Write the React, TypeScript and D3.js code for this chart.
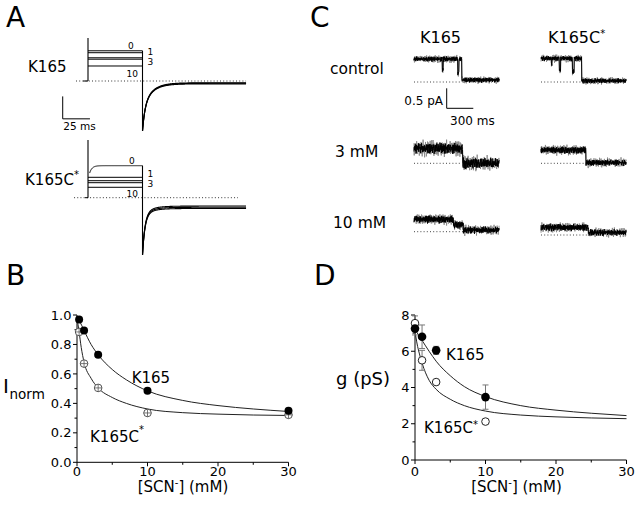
import React from 'react';
import * as d3 from 'd3';

const FONT = "'DejaVu Sans', Verdana, sans-serif";

// ---------------- Panel A (macroscopic currents) ----------------
const aTraceLabels = ['0', '1', '3', '10'];
const aLevelsK165 = [1.373, 1.286, 1.055, 0.991, 0.682]; // normalized current units
const aLevelsK165C = [1.455, 0.927, 0.773, 0.682, 0.473];
const aTailSSK165 = [-0.08, -0.105, -0.13];
const aTailSSK165C = [-0.38, -0.436, -0.49];
const aTailPeakK165 = -2.27;
const aTailPeakK165C = -2.6;
const aSpikeK165 = 1.95;
const aSpikeK165C = 2.62;
const aStepEnd = 50; // ms
const aTraceEnd = 145; // ms
const aTailWK165 = [0.5, 0.5];
const aTailWK165C = [0.85, 0.15];
const aTailTau = [2.3, 8.3]; // ms

// ---------------- Panel B ----------------
const concB = [0.3, 1, 3, 10, 30];
const inormK165 = [0.97, 0.895, 0.73, 0.485, 0.35];
const inormK165C = [0.885, 0.67, 0.505, 0.335, 0.322];
const fitXB_K165 = [0, 0.3, 1, 2, 3, 5, 7, 10, 15, 20, 25, 30];
const fitYB_K165 = [0.99, 0.965, 0.895, 0.8, 0.73, 0.63, 0.56, 0.485, 0.42, 0.385, 0.362, 0.345];
const fitXB_K165C = [0, 0.3, 0.6, 1, 2, 3, 5, 7, 10, 15, 20, 25, 30];
const fitYB_K165C = [0.98, 0.885, 0.78, 0.68, 0.57, 0.505, 0.44, 0.4, 0.362, 0.337, 0.327, 0.321, 0.318];
const xTicksB = [0, 10, 20, 30];
const yTicksB = [0, 0.2, 0.4, 0.6, 0.8, 1.0];

// ---------------- Panel C (single channels) ----------------
const cCols = ['K165', 'K165C'];
const cRows = ['control', '3 mM', '10 mM'];
const cOpen = [[0.575, 0.59], [0.375, 0.33], [0.31, 0.19]]; // pA above closed baseline
const cClosed = [[0.05, 0.03], [0.0, 0.015], [0.04, 0.06]];
const cCloseT = [[538, 459], [549, 507], [556, 533]]; // ms
const cNoiseAmp = [[0.075, 0.075], [0.16, 0.1], [0.11, 0.1]];
const cDips = [
  { r: 0, c: 0, t: 323, depth: 0.28, dur: 10 },
  { r: 0, c: 0, t: 500, depth: 0.36, dur: 14 },
  { r: 0, c: 1, t: 120, depth: 0.15, dur: 10 },
  { r: 0, c: 1, t: 214, depth: 0.3, dur: 16 },
  { r: 0, c: 1, t: 364, depth: 0.34, dur: 20 },
];
const cSublevels = [{ r: 2, c: 0, t0: 443, t1: 556, level: 0.17 }];
const cDuration = 960; // ms
const NOISE_A = [0.3, -0.8, 0.5, 0.1, -0.4, 0.9, -0.2, -0.7, 0.6, 0.2,
  -0.5, 0.8, -0.9, 0.4, 0.0, -0.3, 0.7, -0.6, 0.2, 0.5,
  -1.0, 0.3, 0.6, -0.4, -0.1, 0.9, -0.7, 0.1, 0.4, -0.5,
  0.8, -0.2, -0.8, 0.6, 0.3, -0.6, 0.0, 0.7, -0.3, 0.5,
  -0.9, 0.2, 0.4, -0.1, 0.8, -0.6, -0.3, 0.6, 0.1, -0.8,
  0.9, -0.4, 0.2, 0.5, -0.7, 0.3, -0.2, 0.7, -0.5, 0.1, -0.9];
const NOISE_B = [-0.4, 0.7, 0.1, -0.9, 0.5, -0.2, 0.8, -0.6, 0.3, 0.0,
  -0.7, 0.9, -0.1, 0.4, -0.5, 0.6, -0.8, 0.2, 0.7, -0.3,
  0.1, -0.6, 0.9, -0.4, 0.3, -1.0, 0.5, 0.2, -0.2, 0.8,
  -0.7, 0.4, -0.1, 0.6, -0.5, 0.0, 0.9, -0.8, 0.3, -0.3,
  0.7, -0.6, 0.2, 0.5, -0.9, 0.1, 0.6, -0.4, 0.8, -0.2,
  -0.5, 0.4, 0.0];

// ---------------- Panel D ----------------
const concD = [0, 1, 3, 10];
const gK165 = [7.25, 6.8, 6.05, 3.47];
const errK165 = [0.35, 0.65, 0.22, 0.67];
const gK165C = [7.55, 5.5, 4.3, 2.12];
const errK165C = [0.4, 0.55, 0.0, 0.0];
const fitXD_K165 = [0, 0.5, 1, 2, 3, 5, 7, 10, 15, 20, 25, 30];
const fitYD_K165 = [7.2, 6.9, 6.6, 6.0, 5.45, 4.65, 4.05, 3.5, 3.0, 2.75, 2.58, 2.45];
const fitXD_K165C = [0, 0.3, 0.6, 1, 2, 3, 5, 7, 10, 15, 20, 25, 30];
const fitYD_K165C = [7.1, 6.4, 5.9, 5.35, 4.4, 3.9, 3.35, 3.0, 2.7, 2.48, 2.38, 2.32, 2.28];
const xTicksD = [0, 10, 20, 30];
const yTicksD = [0, 2, 4, 6, 8];

type Pt = [number, number];

function noise(i: number, s: number) {
  return 0.6 * NOISE_A[(i + 5 * s) % NOISE_A.length] + 0.4 * NOISE_B[(i * 2 + 7 * s) % NOISE_B.length];
}

function Axes(props: {
  x: d3.ScaleLinear<number, number>; y: d3.ScaleLinear<number, number>;
  xTicks: number[]; yTicks: number[]; xMinor: number[]; yMinor: number[];
  yFmt: (v: number) => string;
}) {
  const { x, y, xTicks, yTicks, xMinor, yMinor, yFmt } = props;
  const x0 = x.range()[0], x1 = x.range()[1];
  const y0 = y.range()[0], y1 = y.range()[1];
  return (
    <g>
      <line x1={x0} y1={y0} x2={x1} y2={y0} stroke="#000" strokeWidth={1} />
      <line x1={x0} y1={y0} x2={x0} y2={y1} stroke="#000" strokeWidth={1} />
      {xTicks.map((t) => (
        <g key={'xt' + t}>
          <line x1={x(t)} x2={x(t)} y1={y0} y2={y0 + 4} stroke="#000" />
          <text x={x(t)} y={476} fontSize={13} textAnchor="middle">{t}</text>
        </g>
      ))}
      {xMinor.map((t) => (
        <line key={'xm' + t} x1={x(t)} x2={x(t)} y1={y0} y2={y0 + 2.5} stroke="#000" />
      ))}
      {yTicks.map((t) => (
        <g key={'yt' + t}>
          <line x1={x0 - 4} x2={x0} y1={y(t)} y2={y(t)} stroke="#000" />
          <text x={x0 - 5.5} y={y(t) + 4.6} fontSize={13} textAnchor="end">{yFmt(t)}</text>
        </g>
      ))}
      {yMinor.map((t) => (
        <line key={'ym' + t} x1={x0 - 2.5} x2={x0} y1={y(t)} y2={y(t)} stroke="#000" />
      ))}
    </g>
  );
}

function SCNLabel({ cx }: { cx: number }) {
  return (
    <text x={cx} y={492} fontSize={15} textAnchor="middle">
      [SCN<tspan dy={-6} fontSize={10}>-</tspan><tspan dy={6}>] (mM)</tspan>
    </text>
  );
}

export default function App() {
  // ---------- Panel A ----------
  const xA = d3.scaleLinear().domain([0, 100]).range([88, 197]);
  const yAk = d3.scaleLinear().domain([0, 1]).range([81, 59]);
  const yAc = d3.scaleLinear().domain([0, 1]).range([197.7, 175.7]);

  const tailPts = (ss: number, peak: number, w: number[]): Pt[] => {
    const pts: Pt[] = [];
    for (let t = aStepEnd; t <= aTraceEnd; t += 0.25) {
      const dt = t - aStepEnd;
      const f = w[0] * Math.exp(-dt / aTailTau[0]) + w[1] * Math.exp(-dt / aTailTau[1]);
      pts.push([t, ss + (peak - ss) * f]);
    }
    return pts;
  };

  const panelA = (y: d3.ScaleLinear<number, number>, levels: number[], spike: number,
    peak: number, tailSS: number[], w: number[], footStart: number, dotStart: number, dotEnd: number,
    riseFirst: boolean) => {
    const ln = d3.line<Pt>().x((d) => xA(d[0])).y((d) => y(d[1]));
    const traces = levels.map((L, i) => {
      if (riseFirst && i === 0) {
        const pts: Pt[] = [];
        for (let t = 1.5; t <= aStepEnd; t += 0.25) {
          pts.push([t, L - (L - 1.12) * Math.exp(-(t - 1.5) / 2.2)]);
        }
        return pts;
      }
      return [[0, L], [aStepEnd, L]] as Pt[];
    });
    return (
      <g fill="none" stroke="#000">
        <path d={ln([[dotStart, 0], [dotEnd, 0]])!} strokeDasharray="1 2.2" strokeWidth={1} stroke="#333" />
        <path d={ln([[footStart, 0], [0, 0]])!} strokeWidth={1} />
        <path d={ln([[0, 0], [0, spike]])!} strokeWidth={1.1} />
        {traces.map((p, i) => <path key={i} d={ln(p)!} strokeWidth={1} />)}
        <path d={ln([[aStepEnd, d3.max(levels)!], [aStepEnd, peak]])!} strokeWidth={1.1} />
        {tailSS.map((ss, i) => <path key={'t' + i} d={ln(tailPts(ss, peak, w))!} strokeWidth={1.1} />)}
      </g>
    );
  };

  // ---------- Panel B ----------
  const xB = d3.scaleLinear().domain([0, 30]).range([77, 288.5]);
  const yB = d3.scaleLinear().domain([0, 1]).range([462.3, 315]);
  const lineB = d3.line<Pt>().x((d) => xB(d[0])).y((d) => yB(d[1])).curve(d3.curveMonotoneX);

  // ---------- Panel C ----------
  const tC = d3.scaleLinear().domain([0, 300]).range([0, 26.6]);
  const pC = d3.scaleLinear().domain([0, 0.5]).range([0, 20]);
  const colX = [414, 541];
  const rowY = [[82, 82], [163.3, 163.3], [231.7, 235]];

  const levelAt = (r: number, c: number, t: number) => {
    let v = t < cCloseT[r][c] ? cOpen[r][c] : cClosed[r][c];
    cSublevels.forEach((s) => { if (s.r === r && s.c === c && t >= s.t0 && t < s.t1) v = s.level; });
    cDips.forEach((dp) => { if (dp.r === r && dp.c === c && Math.abs(t - dp.t) < dp.dur / 2) v = cOpen[r][c] - dp.depth; });
    return v;
  };
  const channelPath = (r: number, c: number, seed: number, ampScale: number) => {
    const pts: Pt[] = [];
    let i = 0;
    for (let t = 0; t <= cDuration; t += 2.5, i++) {
      pts.push([t, levelAt(r, c, t) + cNoiseAmp[r][c] * ampScale * noise(i, seed)]);
    }
    const ln = d3.line<Pt>().x((d) => colX[c] + tC(d[0])).y((d) => rowY[r][c] - pC(d[1]));
    return ln(pts)!;
  };

  // ---------- Panel D ----------
  const xD = d3.scaleLinear().domain([0, 30]).range([415, 626.5]);
  const yD = d3.scaleLinear().domain([0, 8]).range([460, 315]);
  const lineD = d3.line<Pt>().x((d) => xD(d[0])).y((d) => yD(d[1])).curve(d3.curveMonotoneX);

  return (
    <svg width={640} height={507} viewBox="0 0 640 507"
      style={{ position: 'absolute', left: 0, top: 0, background: '#fff' }}
      fontFamily={FONT} fill="#000">
      <rect x={0} y={0} width={640} height={507} fill="#fff" />

      {/* Panel letters */}
      <text x={6} y={27} fontSize={28}>A</text>
      <text x={310} y={27} fontSize={28}>C</text>
      <text x={6} y={285} fontSize={28}>B</text>
      <text x={314} y={285} fontSize={28}>D</text>

      {/* ---------- Panel A ---------- */}
      <text x={28} y={71.7} fontSize={15}>K165</text>
      <text x={25} y={185} fontSize={15}>K165C<tspan dy={-7.5} fontSize={10}>*</tspan></text>
      {panelA(yAk, aLevelsK165, aSpikeK165, aTailPeakK165, aTailSSK165, aTailWK165, -4.5, -11, aTraceEnd, false)}
      {panelA(yAc, aLevelsK165C, aSpikeK165C, aTailPeakK165C, aTailSSK165C, aTailWK165C, -2.8, -12.8, 137.6, true)}
      <g fontSize={9}>
        <text x={128} y={49.3}>{aTraceLabels[0]}</text>
        <text x={147.5} y={55}>{aTraceLabels[1]}</text>
        <text x={147.5} y={65}>{aTraceLabels[2]}</text>
        <text x={126.5} y={77.3}>{aTraceLabels[3]}</text>
        <text x={129} y={164.3}>{aTraceLabels[0]}</text>
        <text x={147.5} y={177}>{aTraceLabels[1]}</text>
        <text x={147.5} y={187}>{aTraceLabels[2]}</text>
        <text x={126.5} y={197.3}>{aTraceLabels[3]}</text>
      </g>
      {/* scale bar A */}
      <g stroke="#000" strokeWidth={1} fill="none">
        <line x1={xA(-23.2)} x2={xA(-23.2)} y1={yAk(-0.7)} y2={yAk(-1.72)} />
        <line x1={xA(-23.2)} x2={xA(1.8)} y1={yAk(-1.72)} y2={yAk(-1.72)} />
      </g>
      <text x={xA(-23.2) + 0.5} y={130} fontSize={10.5}>25 ms</text>

      {/* ---------- Panel C ---------- */}
      <text x={420} y={43.3} fontSize={16}>{cCols[0]}</text>
      <text x={548} y={43.3} fontSize={16}>{cCols[1]}<tspan dy={-6} fontSize={10}>*</tspan></text>
      <text x={330} y={74} fontSize={15.5}>{cRows[0]}</text>
      <text x={335} y={156.7} fontSize={15.5}>{cRows[1]}</text>
      <text x={333} y={228.3} fontSize={15.5}>{cRows[2]}</text>
      {cRows.map((_, r) => cCols.map((__, c) => (
        <g key={r + '-' + c} fill="none">
          <line x1={colX[c]} x2={colX[c] + tC(cCloseT[r][c])} y1={rowY[r][c]} y2={rowY[r][c]}
            stroke="#444" strokeDasharray="1 2.2" />
          <path d={channelPath(r, c, r * 2 + c + 3, 1.5)} stroke="#888" strokeWidth={0.9} />
          <path d={channelPath(r, c, r * 2 + c, 1)} stroke="#000" strokeWidth={1} />
        </g>
      )))}
      {/* scale bar C */}
      <g stroke="#000" strokeWidth={1} fill="none">
        <line x1={446.7} x2={446.7} y1={108.3 - pC(0.5)} y2={108.3} />
        <line x1={446.7} x2={446.7 + tC(300)} y1={108.3} y2={108.3} />
      </g>
      <text x={443} y={105} fontSize={12} textAnchor="end">0.5 pA</text>
      <text x={450} y={125} fontSize={12}>300 ms</text>

      {/* ---------- Panel B ---------- */}
      <Axes x={xB} y={yB} xTicks={xTicksB} yTicks={yTicksB} xMinor={[5, 15, 25]}
        yMinor={[0.1, 0.3, 0.5, 0.7, 0.9]} yFmt={(v) => v.toFixed(1)} />
      <path d={lineB(fitXB_K165.map((x, i) => [x, fitYB_K165[i]] as Pt))!} fill="none" stroke="#222" strokeWidth={1} />
      <path d={lineB(fitXB_K165C.map((x, i) => [x, fitYB_K165C[i]] as Pt))!} fill="none" stroke="#222" strokeWidth={1} />
      {concB.map((c, i) => (
        <g key={'bc' + i}>
          <circle cx={xB(c)} cy={yB(inormK165C[i])} r={3.8} fill="#fff" stroke="#555" strokeWidth={1} />
          <line x1={xB(c) - 3.8} x2={xB(c) + 3.8} y1={yB(inormK165C[i])} y2={yB(inormK165C[i])} stroke="#555" strokeWidth={0.8} />
          <line x1={xB(c)} x2={xB(c)} y1={yB(inormK165C[i]) - 3.8} y2={yB(inormK165C[i]) + 3.8} stroke="#555" strokeWidth={0.8} />
        </g>
      ))}
      {concB.map((c, i) => (
        <circle key={'bk' + i} cx={xB(c)} cy={yB(inormK165[i])} r={4} fill="#000" />
      ))}
      <text x={131.7} y={383} fontSize={15}>K165</text>
      <text x={90} y={441.7} fontSize={15}>K165C<tspan dy={-9} fontSize={10}>*</tspan></text>
      <text x={3} y={393} fontSize={20}>I</text>
      <text x={9.5} y={398.5} fontSize={13.5}>norm</text>
      <SCNLabel cx={183} />

      {/* ---------- Panel D ---------- */}
      <Axes x={xD} y={yD} xTicks={xTicksD} yTicks={yTicksD} xMinor={[5, 15, 25]}
        yMinor={[1, 3, 5, 7]} yFmt={(v) => String(v)} />
      <path d={lineD(fitXD_K165.map((x, i) => [x, fitYD_K165[i]] as Pt))!} fill="none" stroke="#222" strokeWidth={1} />
      <path d={lineD(fitXD_K165C.map((x, i) => [x, fitYD_K165C[i]] as Pt))!} fill="none" stroke="#222" strokeWidth={1} />
      {concD.map((c, i) => (
        <g key={'de' + i} stroke="#777" strokeWidth={1}>
          {errK165C[i] > 0 && (
            <g>
              <line x1={xD(c)} x2={xD(c)} y1={yD(gK165C[i] - errK165C[i])} y2={yD(gK165C[i] + errK165C[i])} />
              <line x1={xD(c) - 3} x2={xD(c) + 3} y1={yD(gK165C[i] - errK165C[i])} y2={yD(gK165C[i] - errK165C[i])} />
              <line x1={xD(c) - 3} x2={xD(c) + 3} y1={yD(gK165C[i] + errK165C[i])} y2={yD(gK165C[i] + errK165C[i])} />
            </g>
          )}
          <line x1={xD(c)} x2={xD(c)} y1={yD(gK165[i] - errK165[i])} y2={yD(gK165[i] + errK165[i])} />
          <line x1={xD(c) - 3} x2={xD(c) + 3} y1={yD(gK165[i] - errK165[i])} y2={yD(gK165[i] - errK165[i])} />
          <line x1={xD(c) - 3} x2={xD(c) + 3} y1={yD(gK165[i] + errK165[i])} y2={yD(gK165[i] + errK165[i])} />
        </g>
      ))}
      {concD.map((c, i) => (
        <circle key={'dc' + i} cx={xD(c)} cy={yD(gK165C[i])} r={3.8} fill="#fff" stroke="#222" strokeWidth={1} />
      ))}
      {concD.map((c, i) => (
        <circle key={'dk' + i} cx={xD(c)} cy={yD(gK165[i])} r={4.3} fill="#000" />
      ))}
      <text x={446} y={360} fontSize={15}>K165</text>
      <text x={424} y={433} fontSize={15}>K165C<tspan dy={-5} fontSize={10}>*</tspan></text>
      <text x={336} y={385} fontSize={18}>g (pS)</text>
      <SCNLabel cx={516.5} />
    </svg>
  );
}
